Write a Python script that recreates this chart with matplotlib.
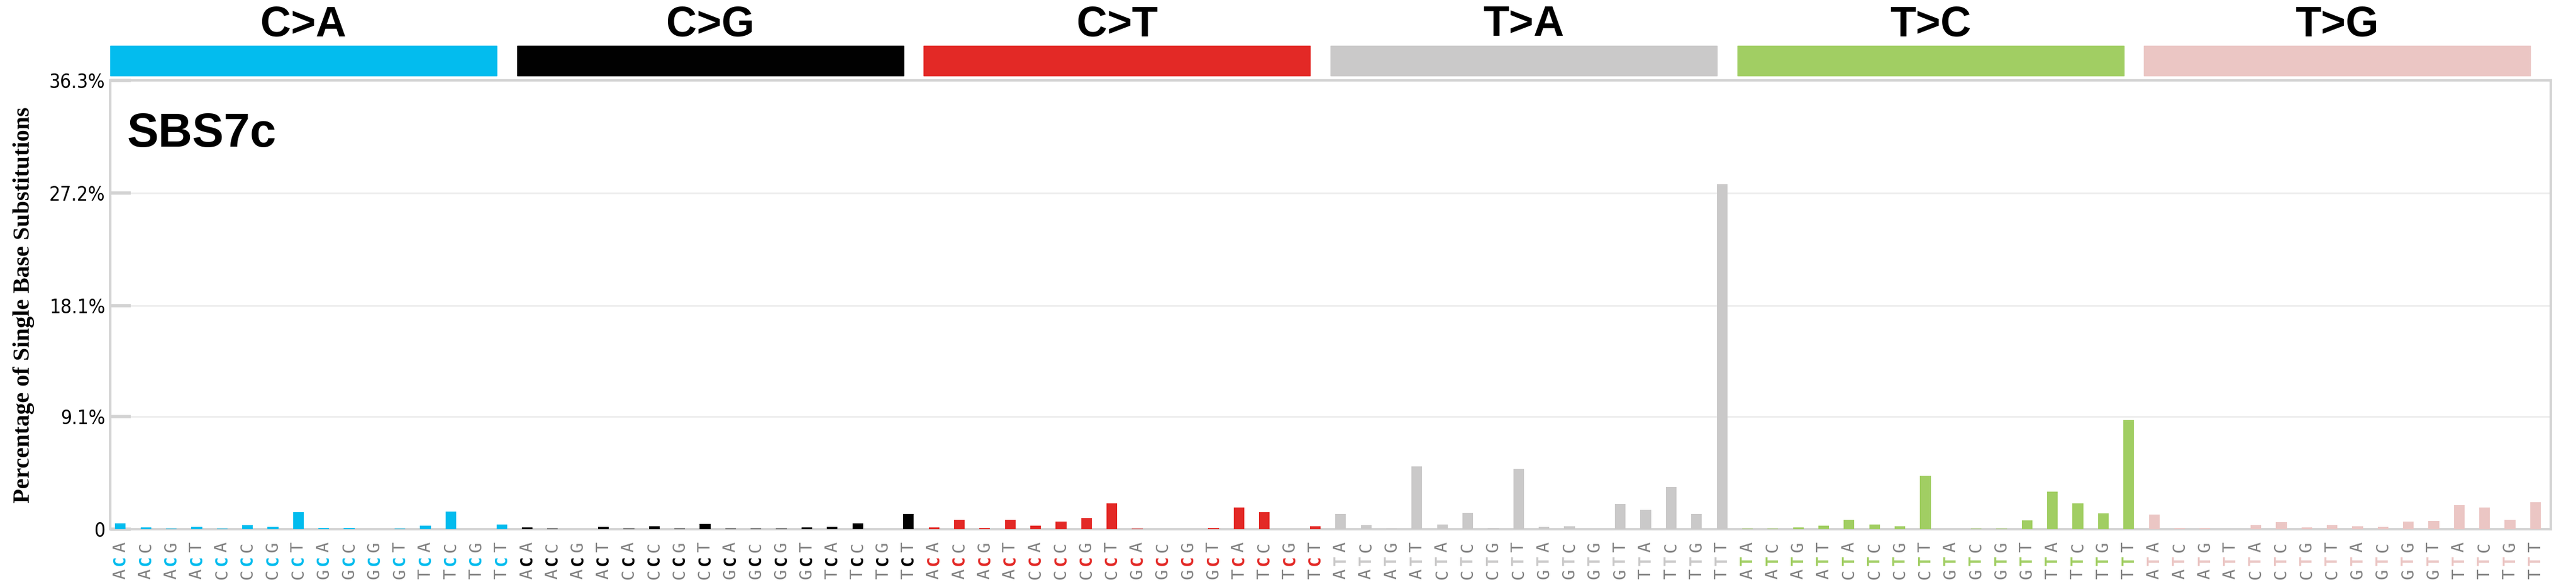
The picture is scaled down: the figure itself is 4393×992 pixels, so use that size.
import matplotlib
matplotlib.use("Agg")
import matplotlib.pyplot as plt
import matplotlib.transforms as mtransforms

mut_types = ["C>A", "C>G", "C>T", "T>A", "T>C", "T>G"]
mut_colors = ["#03BCEE", "#010101", "#E32926", "#CAC9C9", "#A1CE63", "#EBC6C4"]
bases = ["A", "C", "G", "T"]

ca = [0.48, 0.13, 0.05, 0.17, 0.05, 0.32, 0.17, 1.38, 0.08, 0.08, 0.0, 0.05, 0.27, 1.41, 0.0, 0.36]
cg = [0.13, 0.05, 0.0, 0.17, 0.05, 0.22, 0.05, 0.41, 0.05, 0.05, 0.05, 0.13, 0.17, 0.46, 0.0, 1.22]
ct = [0.13, 0.74, 0.08, 0.74, 0.27, 0.60, 0.89, 2.08, 0.03, 0.0, 0.0, 0.08, 1.74, 1.36, 0.0, 0.22]
ta = [1.22, 0.32, 0.03, 5.07, 0.36, 1.32, 0.08, 4.88, 0.17, 0.22, 0.0, 2.03, 1.55, 3.41, 1.22, 27.9]
tc = [0.03, 0.03, 0.13, 0.27, 0.74, 0.36, 0.22, 4.31, 0.0, 0.03, 0.03, 0.70, 3.03, 2.08, 1.27, 8.83]
tg = [1.17, 0.08, 0.08, 0.0, 0.32, 0.55, 0.13, 0.32, 0.22, 0.17, 0.60, 0.65, 1.93, 1.74, 0.74, 2.17]
series = [ca, cg, ct, ta, tc, tg]

yticks = [0, 9.1, 18.1, 27.2, 36.3]
ytick_labels = ["0", "9.1%", "18.1%", "27.2%", "36.3%"]
sig_name = "SBS7c"

fig = plt.figure(figsize=(43.93, 9.92), dpi=100)
ax = fig.add_axes([0.0428, 0.0907, 0.9474, 0.771])

for g, (vals, col) in enumerate(zip(series, mut_colors)):
    xs = [g * 16 + i for i in range(16)]
    ax.bar(xs, vals, width=0.42, color=col, zorder=3)

ax.set_xlim(-0.4, 95.6)
ax.set_ylim(0, 36.3)
ax.set_yticks(yticks)
ax.set_yticklabels(ytick_labels, fontsize=24, family="DejaVu Sans", fontstretch="condensed")
ax.tick_params(axis="y", length=25, width=4, color="#D3D3D3", direction="in", pad=6)
ax.set_xticks([])
ax.yaxis.grid(True, color="#EDEDED", lw=2, zorder=0)
for s in ax.spines.values():
    s.set_color("#D3D3D3")
    s.set_linewidth(3)

ax.set_ylabel("Percentage of Single Base Substitutions", family="Liberation Serif",
              fontweight="bold", fontsize=29, labelpad=18)
ax.text(0.007, 0.88, sig_name, transform=ax.transAxes, fontsize=58, fontweight="bold",
        family="Liberation Sans", va="center", ha="left")

# category header bars
trans = mtransforms.blended_transform_factory(ax.transData, fig.transFigure)
for g, (m, col) in enumerate(zip(mut_types, mut_colors)):
    x0 = g * 16 - 0.4
    ax.add_patch(plt.Rectangle((x0, 1 - 129 / 992), 15.2, 51 / 992, transform=trans,
                               color=col, clip_on=False))
    ax.text(x0 + 7.6, 1 - 42 / 992, m, transform=trans, ha="center", va="center",
            fontsize=52, fontweight="bold", family="Liberation Sans")

# context tick labels
for g, m in enumerate(mut_types):
    ref = m[0]
    for i in range(16):
        x = g * 16 + i
        five = bases[i // 4]
        three = bases[i % 4]
        for txt, y, col, fw in [(three, 1 - 932 / 992, "#808080", "normal"),
                                (ref, 1 - 955 / 992, mut_colors[g], "bold"),
                                (five, 1 - 978 / 992, "#808080", "normal")]:
            ax.text(x, y, txt, transform=trans, rotation=90, ha="center", va="center",
                    fontsize=21, color=col, fontweight=fw, family="DejaVu Sans Mono")

fig.savefig("out.png", dpi=100)
